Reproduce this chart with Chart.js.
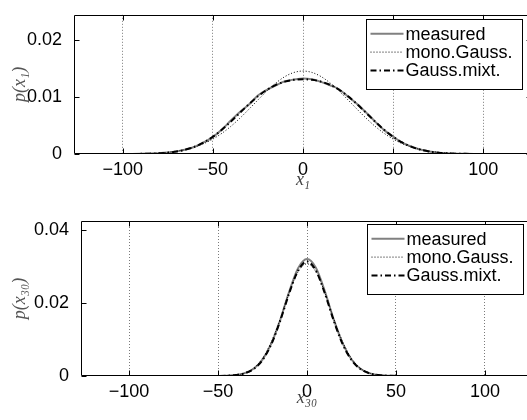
<!DOCTYPE html>
<html><head><meta charset="utf-8">
<script src="https://cdn.jsdelivr.net/npm/chart.js@4/dist/chart.umd.min.js"></script>
<style>
html,body{margin:0;padding:0;background:#fff;overflow:hidden;width:527px;height:420px}
.box{position:absolute;left:0;width:540px}
canvas{display:block}
</style></head><body>
<div class="box" style="top:0;height:200px"><canvas id="c1" width="540" height="200"></canvas></div>
<div class="box" style="top:200px;height:220px"><canvas id="c2" width="540" height="220"></canvas></div>
<script>
// ---------- data ----------
const xValues = [-125,-120,-115,-110,-105,-100,-95,-90,-85,-80,-75,-70,-65,-60,-55,-50,-45,-40,-35,-30,-25,-20,-15,-10,-5,0,
  5,10,15,20,25,30,35,40,45,50,55,60,65,70,75,80,85,90,95,100,105,110,115,120,125];

const seriesNames = ['measured','mono.Gauss.','Gauss.mixt.'];

// top panel: p(x1)
const top_measured = [0,0,0,0,0,0,0.00001,0.00003,0.00007,0.00013,0.00025,0.00046,0.0008,0.00128,0.00207,0.00298,0.0043,0.0059,0.0074,0.0087,0.0103,0.0113,0.0121,0.0128,0.0131,0.0133,
  0.01315,0.0127,0.0121,0.0114,0.0101,0.0088,0.0073,0.0057,0.0042,0.00305,0.002,0.00132,0.00079,0.00044,0.00023,0.00012,0.00006,0.00003,0.00001,0,0,0,0,0,0];
const top_mono = [0,0,0,0,0,0.00001,0.00003,0.00006,0.0001,0.00018,0.00031,0.00051,0.0008,0.00124,0.00183,0.00263,0.00364,0.00487,0.0063,0.00788,0.00951,0.0111,0.01251,0.01363,0.01435,0.0146,
  0.01435,0.01363,0.01251,0.0111,0.00951,0.00788,0.0063,0.00487,0.00364,0.00263,0.00183,0.00124,0.0008,0.00051,0.00031,0.00018,0.0001,0.00006,0.00003,0.00001,0,0,0,0,0];
const top_mixt = [0,0,0,0,0,0,0.00001,0.00003,0.00006,0.00012,0.00024,0.00044,0.00078,0.0013,0.00203,0.00303,0.00426,0.0057,0.00724,0.00877,0.01015,0.01131,0.01217,0.01274,0.01306,0.01316,
  0.01306,0.01274,0.01217,0.01131,0.01015,0.00877,0.00724,0.0057,0.00426,0.00303,0.00203,0.0013,0.00078,0.00044,0.00024,0.00012,0.00006,0.00003,0.00001,0,0,0,0,0,0];

// bottom panel: p(x30)
const bot_measured = [0,0,0,0,0,0,0,0,0,0,0,0,0,0,0.00001,0.00003,0.0001,0.00029,0.0008,0.002,0.0045,0.0089,0.0154,0.0231,0.0295,0.032,
  0.0296,0.0232,0.0155,0.009,0.0045,0.00198,0.00078,0.00027,0.00009,0.00003,0.00001,0,0,0,0,0,0,0,0,0,0,0,0,0,0];
const bot_mono = [0,0,0,0,0,0,0,0,0,0,0,0,0,0,0,0.00002,0.00008,0.00027,0.00082,0.00214,0.00483,0.0094,0.01578,0.02284,0.02851,0.0307,
  0.02851,0.02284,0.01578,0.0094,0.00483,0.00214,0.00082,0.00027,0.00008,0.00002,0,0,0,0,0,0,0,0,0,0,0,0,0,0,0];
const bot_mixt = [0,0,0,0,0,0,0,0,0,0,0,0,0,0,0.00001,0.00002,0.00008,0.00026,0.00074,0.00191,0.00436,0.00874,0.01516,0.02263,0.02883,0.0313,
  0.02883,0.02263,0.01516,0.00874,0.00436,0.00191,0.00074,0.00026,0.00008,0.00002,0.00001,0,0,0,0,0,0,0,0,0,0,0,0,0,0];

const xTicks = [-100,-50,0,50,100];
const xTickLabels = ['\u2212100','\u221250','0','50','100'];
const yTicksTop = [0,0.01,0.02];
const yTickLabelsTop = ['0','0.01','0.02'];
const yTicksBot = [0,0.02,0.04];
const yTickLabelsBot = ['0','0.02','0.04'];

// ---------- styling ----------
const STY = [
  {color:'#808080', width:2, dash:[]},
  {color:'#000000', width:1, dash:[1,2]},
  {color:'#000000', width:2, dash:[6,3,1.5,3]}
];
const SANS = "'Liberation Sans', Arial, Helvetica, sans-serif";
const SERIF = "'Liberation Serif', 'DejaVu Serif', serif";

const framePlugin = {
  id: 'frame',
  afterDatasetsDraw(chart, args, o) {
    const {ctx, chartArea: a, scales} = chart;
    ctx.save();
    ctx.strokeStyle = '#000';
    ctx.lineWidth = 1;
    ctx.setLineDash([]);
    const L = Math.round(a.left) + 0.5, T = Math.round(a.top) + 0.5;
    const R = Math.round(a.right) - 0.5, B = Math.round(a.bottom) - 0.5;
    ctx.beginPath();
    ctx.moveTo(L, T); ctx.lineTo(R, T); ctx.lineTo(R, B); ctx.lineTo(L, B); ctx.closePath();
    const tl = 5;
    for (const t of o.xt) {
      const px = Math.round(scales.x.getPixelForValue(t)) + 0.5;
      ctx.moveTo(px, B); ctx.lineTo(px, B - tl);
      ctx.moveTo(px, T); ctx.lineTo(px, T + tl);
    }
    for (const t of o.yt) {
      const py = Math.round(scales.y.getPixelForValue(t)) + 0.5;
      ctx.moveTo(L, py); ctx.lineTo(L + tl, py);
      ctx.moveTo(R, py); ctx.lineTo(R - tl, py);
    }
    ctx.stroke();

    // legend box
    const bw = 156, bh = 70;
    const bx = Math.round(a.right - 10 - bw) + 0.5, by = Math.round(a.top + o.legTop) + 0.5;
    ctx.fillStyle = '#fff';
    ctx.fillRect(bx, by, bw, bh);
    ctx.strokeStyle = '#000';
    ctx.lineWidth = 1;
    ctx.strokeRect(bx, by, bw, bh);
    ctx.font = '18px ' + SANS;
    ctx.textBaseline = 'middle';
    ctx.textAlign = 'left';
    seriesNames.forEach((n, i) => {
      const y = by + 14.3 + i * 18.3;
      ctx.beginPath();
      ctx.strokeStyle = STY[i].color;
      ctx.lineWidth = STY[i].width;
      ctx.setLineDash(STY[i].dash);
      ctx.moveTo(bx + 4, y); ctx.lineTo(bx + 37, y);
      ctx.stroke();
      ctx.setLineDash([]);
      ctx.fillStyle = '#000';
      ctx.fillText(n, bx + 39, y + 1);
    });
    ctx.restore();
  }
};

function makeChart(id, series, yMax, yT, yL, xTitle, yTitle, g) {
  const datasets = series.map((s, i) => ({
    label: seriesNames[i],
    data: xValues.map((x, k) => ({x: x, y: s[k]})),
    borderColor: STY[i].color,
    borderWidth: STY[i].width,
    borderDash: STY[i].dash,
    pointRadius: 0,
    fill: false,
    cubicInterpolationMode: 'monotone',
    order: 3 - i
  }));
  return new Chart(document.getElementById(id), {
    type: 'line',
    data: {datasets},
    plugins: [framePlugin],
    options: {
      responsive: false,
      animation: false,
      devicePixelRatio: 1,
      layout: {padding: {top: g.padTop, right: g.padRight, left: 0, bottom: 0}},
      plugins: {
        legend: {display: false},
        tooltip: {enabled: false},
        frame: {xt: xTicks, yt: yT, legTop: g.legTop}
      },
      scales: {
        x: {
          type: 'linear', min: -127, max: 127,
          afterBuildTicks: s => { s.ticks = xTicks.map(v => ({value: v})); },
          afterFit: s => { s.height = g.xH; },
          ticks: {callback: v => xTickLabels[xTicks.indexOf(v)], font: {family: SANS, size: 18}, color: '#000', padding: 5, maxRotation: 0, autoSkip: false},
          grid: {display: true, drawTicks: false, color: '#7a7a7a', lineWidth: 1},
          border: {display: false, dash: [1, 2]},
          title: {display: true, text: xTitle, font: {family: SERIF, style: 'italic', size: 18}, color: '#444', padding: {top: 0, bottom: g.xTitlePad}}
        },
        y: {
          min: 0, max: yMax,
          afterBuildTicks: s => { s.ticks = yT.map(v => ({value: v})); },
          afterFit: s => { s.width = g.yW; },
          ticks: {callback: v => yL[yT.indexOf(v)], font: {family: SANS, size: 18}, color: '#000', padding: 4},
          grid: {display: false},
          border: {display: false},
          title: {display: true, text: yTitle, font: {family: SERIF, style: 'italic', size: 18}, color: '#555', padding: {top: 9, bottom: 0}}
        }
      }
    }
  });
}

makeChart('c1', [top_measured, top_mono, top_mixt], 0.0245, yTicksTop, yTickLabelsTop, 'x\u2081', 'p(x\u2081)',
  {padTop: 5, padRight: 8, xH: 46, yW: 74, xTitlePad: 9, legTop: 4});
makeChart('c2', [bot_measured, bot_mono, bot_mixt], 0.0424, yTicksBot, yTickLabelsBot, 'x\u2083\u2080', 'p(x\u2083\u2080)',
  {padTop: 21, padRight: 7, xH: 44, yW: 81, xTitlePad: 11, legTop: 3});
</script>
</body></html>
